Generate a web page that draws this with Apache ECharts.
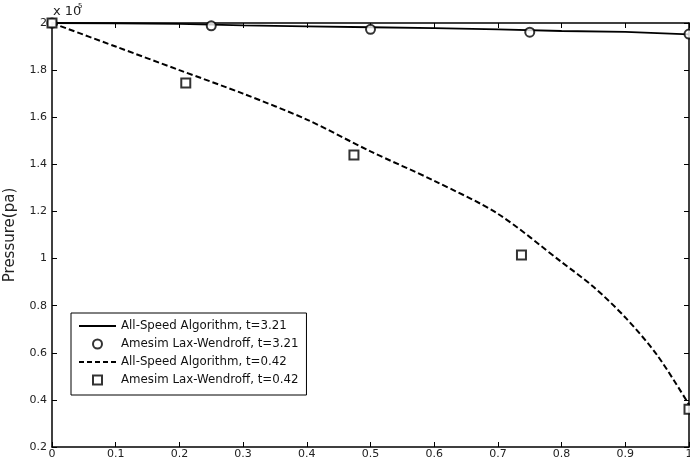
<!DOCTYPE html>
<html>
<head>
<meta charset="utf-8">
<script src="https://cdn.jsdelivr.net/npm/echarts@6/dist/echarts.min.js"></script>
<style>
  html, body { margin: 0; padding: 0; background: #fff; }
  #main { width: 690px; height: 460px; }
</style>
</head>
<body>
<div id="main"></div>
<script>
// solid curve, t=3.21
const xSolid = [0, 0.1, 0.2, 0.3, 0.4, 0.5, 0.6, 0.7, 0.8, 0.9, 1.0];
const ySolid = [2.0, 1.999, 1.996, 1.99, 1.986, 1.982, 1.978, 1.973, 1.966, 1.962, 1.952];
// circles, t=3.21
const xCircle = [0, 0.25, 0.5, 0.75, 1.0];
const yCircle = [2.0, 1.988, 1.973, 1.961, 1.953];
// dashed curve, t=0.42
const xDash = [0, 0.1, 0.2, 0.3, 0.4, 0.5, 0.6, 0.7, 0.8, 0.85, 0.9, 0.95, 1.0];
const yDash = [2.0, 1.90, 1.80, 1.70, 1.59, 1.455, 1.33, 1.19, 0.985, 0.88, 0.75, 0.59, 0.38];
// squares, t=0.42
const xSquare = [0, 0.21, 0.474, 0.737, 1.0];
const ySquare = [2.0, 1.745, 1.44, 1.015, 0.36];

const names = [
  'All-Speed Algorithm, t=3.21',
  'Amesim Lax-Wendroff, t=3.21',
  'All-Speed Algorithm, t=0.42',
  'Amesim Lax-Wendroff, t=0.42'
];

const zip = (a, b) => a.map((v, i) => [v, b[i]]);
const font = 'DejaVu Sans, sans-serif';

// legend icons: plain bar for the solid line, five dashes for the dashed one
const solidIcon = 'path://M0,0H37V1.8H0Z';
const dashIcon = 'path://M0,0H5V1.8H0Z M8,0H13V1.8H8Z M16,0H21V1.8H16Z M24,0H29V1.8H24Z M32,0H37V1.8H32Z';

const myChart = echarts.init(document.getElementById('main'));

const boxAxis = {
  type: 'value',
  axisLine: { show: true, onZero: false, lineStyle: { color: '#000', width: 1.5 } },
  axisTick: { show: true, inside: true, length: 5, lineStyle: { color: '#000' } },
  splitLine: { show: false }
};

const option = {
  backgroundColor: '#fff',
  animation: false,
  grid: { left: 52, top: 23, right: 1, bottom: 13, containLabel: false, outerBoundsMode: 'none' },
  legend: {
    orient: 'vertical',
    left: 71,
    top: 313,
    padding: [7, 8, 9, 8],
    itemGap: 6,
    itemWidth: 37,
    itemHeight: 9,
    borderColor: '#000',
    borderWidth: 1,
    backgroundColor: '#fff',
    textStyle: { fontFamily: font, fontSize: 11.8, color: '#111' },
    data: [
      { name: names[0], icon: solidIcon },
      { name: names[1] },
      { name: names[2], icon: dashIcon },
      { name: names[3], icon: 'path://M0,0H10V10H0Z' }
    ]
  },
  graphic: [
    {
      type: 'text', left: 53, top: 5,
      style: { text: 'x 10', font: '13px ' + font, fill: '#222' }
    },
    {
      type: 'text', left: 78, top: 3,
      style: { text: '5', font: '7px ' + font, fill: '#222' }
    }
  ],
  xAxis: [
    Object.assign({}, boxAxis, {
      position: 'bottom', min: 0, max: 1, interval: 0.1,
      axisLabel: { color: '#222', fontFamily: font, fontSize: 11, margin: 2,
        formatter: v => String(Math.round(v * 10) / 10) }
    }),
    Object.assign({}, boxAxis, {
      position: 'top', min: 0, max: 1, interval: 0.1,
      axisLabel: { show: false }
    })
  ],
  yAxis: [
    Object.assign({}, boxAxis, {
      position: 'left', min: 0.2, max: 2, interval: 0.2,
      name: 'Pressure(pa)', nameLocation: 'middle', nameGap: 34, nameRotate: 90,
      nameTextStyle: { color: '#222', fontFamily: font, fontSize: 15 },
      axisLabel: { color: '#222', fontFamily: font, fontSize: 11, margin: 5,
        formatter: v => String(Math.round(v * 10) / 10) }
    }),
    Object.assign({}, boxAxis, {
      position: 'right', min: 0.2, max: 2, interval: 0.2,
      axisLabel: { show: false }
    })
  ],
  series: [
    {
      name: names[0], type: 'line', symbol: 'none',
      data: zip(xSolid, ySolid),
      lineStyle: { color: '#000', width: 1.8 },
      itemStyle: { color: '#000' }
    },
    {
      name: names[1], type: 'scatter', symbol: 'circle', symbolSize: 9,
      data: zip(xCircle, yCircle),
      itemStyle: { color: '#fff', borderColor: '#000', borderWidth: 2 },
      z: 5
    },
    {
      name: names[2], type: 'line', symbol: 'none', smooth: 0.3,
      data: zip(xDash, yDash),
      lineStyle: { color: '#000', width: 2, type: [6, 3] },
      itemStyle: { color: '#000' }
    },
    {
      name: names[3], type: 'scatter', symbol: 'rect', symbolSize: 9,
      data: zip(xSquare, ySquare),
      itemStyle: { color: '#fff', borderColor: '#000', borderWidth: 2 },
      z: 5
    }
  ]
};

myChart.setOption(option);
</script>
</body>
</html>
